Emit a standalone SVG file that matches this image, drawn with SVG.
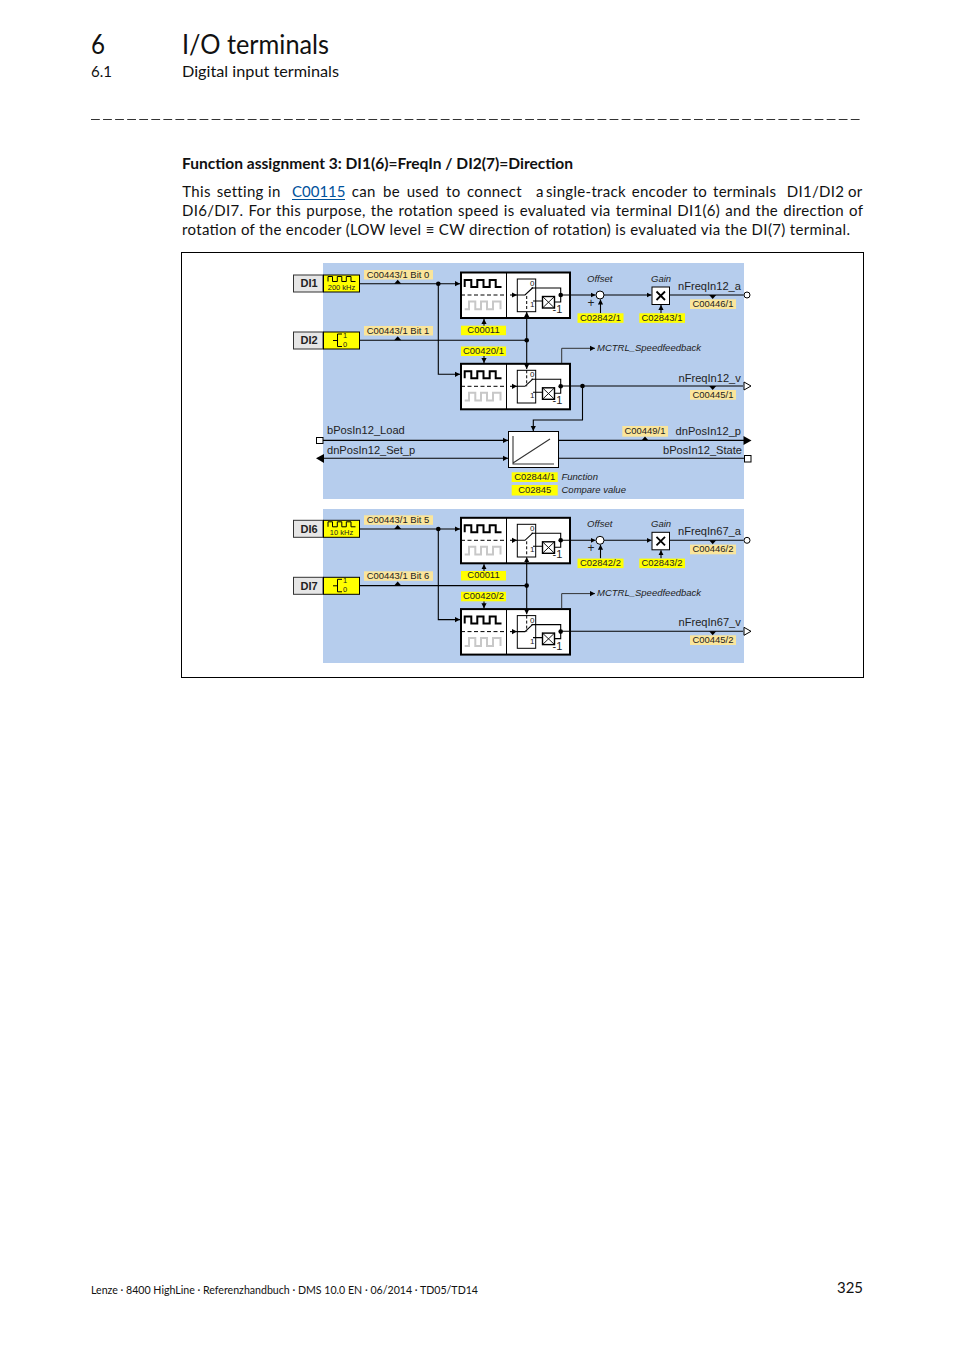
<svg xmlns="http://www.w3.org/2000/svg" xmlns:xlink="http://www.w3.org/1999/xlink" width="954" height="1350" viewBox="0 0 954 1350">
<style>
text{font-family:"Liberation Sans",Arial,sans-serif;fill:#222}
.p{font-family:Lato,"Noto Sans","Open Sans",sans-serif;fill:#111}
.c{font-size:9.45px;text-anchor:middle}
.n{font-size:11.1px}
.i{font-size:9.5px;font-style:italic}
.s{font-size:8px}
.di{font-size:11px;font-weight:bold;text-anchor:middle}
.w{fill:none;stroke:#000;stroke-width:1.1}
.tan{fill:#fae59b}
.yel{fill:#ffff00}
.grey{fill:none;stroke:#c8c8c8;stroke-width:2}
.blk{fill:none;stroke:#000;stroke-width:2}
.box{fill:#fff;stroke:#000;stroke-width:1}
.dot{fill:#000}
</style>
<defs>
<marker id="a" markerUnits="userSpaceOnUse" markerWidth="6" markerHeight="6" refX="5" refY="3" orient="auto"><path d="M0,0.4L5,3L0,5.6z" fill="#000"/></marker>
<g id="fb">
<rect x="461" y="272.5" width="109" height="45.5" fill="#fff" stroke="#000" stroke-width="2"/>
<path d="M506.5,272.5V318" stroke="#000" fill="none"/>
<path class="blk" d="M464.7,287V280H471.3V287H477.3V280H483.5V287H489.7V280H495.7V287H501.5"/>
<path class="grey" d="M464.7,309.3H469V301.5H475.3V309.3H481V301.5H487V309.3H493V301.5H500.5V309.3"/>
<path d="M461,295H506" stroke="#000" stroke-dasharray="4 2.5" fill="none"/>
<rect x="517.3" y="279" width="18.4" height="32.7" fill="#fff" stroke="#000"/>
<path class="w" d="M510,295H517" marker-end="url(#a)"/>
<path class="w" d="M517,295H525L533,287.5"/>
<path class="w" d="M531.5,288H560.7V302H554M533,301H542.5"/>
<rect x="542.5" y="296.5" width="12" height="11.5" fill="#fff" stroke="#000" stroke-width="1.4"/>
<path d="M542.5,296.5L554.5,308M554.5,296.5L542.5,308" stroke="#000" fill="none" stroke-width=".9"/>
<circle class="dot" cx="560.7" cy="295" r="2.3"/>
</g>
<g id="pulse"><path d="M328,281.5V276.5H332.5V281.5H337.3V276.5H341.8V281.5H346.3V276.5H351V281.5H355.5" fill="none" stroke="#000" stroke-width="1"/></g>
<g id="tri"><path d="M-3.5,0H3.5L0,-4z" fill="#000"/></g>
</defs>
<rect width="954" height="1350" fill="#fff"/>

<g id="header">
<text class="p" x="91" y="53.5" font-size="26" textLength="14" lengthAdjust="spacingAndGlyphs">6</text>
<text class="p" x="182" y="53.5" font-size="26" textLength="147" lengthAdjust="spacingAndGlyphs">I/O terminals</text>
<text class="p" x="91" y="77" font-size="15" textLength="21" lengthAdjust="spacingAndGlyphs">6.1</text>
<text class="p" x="182" y="77" font-size="15" textLength="157" lengthAdjust="spacingAndGlyphs">Digital input terminals</text>
<path d="M91,119.5H860" stroke="#333" stroke-width="1" stroke-dasharray="8.8 3.26" fill="none"/>
</g>

<g id="body">
<text class="p" x="182" y="169" font-size="15" font-weight="bold" textLength="391" lengthAdjust="spacingAndGlyphs">Function assignment 3: DI1(6)=FreqIn / DI2(7)=Direction</text>
<text class="p" y="197" font-size="15" letter-spacing=".3"><tspan x="182.3">This</tspan> <tspan x="216.7">setting</tspan> <tspan x="268">in</tspan> <tspan x="292" style="fill:#00529c" letter-spacing="0">C00115</tspan> <tspan x="351.7">can</tspan> <tspan x="383">be</tspan> <tspan x="406.7">used</tspan> <tspan x="446">to</tspan> <tspan x="467">connect</tspan> <tspan x="536">a</tspan> <tspan x="546">single-track</tspan> <tspan x="631.7">encoder</tspan> <tspan x="692.7">to</tspan> <tspan x="713">terminals</tspan> <tspan x="786.7">DI1/DI2</tspan> <tspan x="848">or</tspan></text>
<path d="M292,199.5H345" stroke="#00529c" fill="none"/>
<text class="p" x="182" y="216" font-size="15" word-spacing="1" textLength="681" lengthAdjust="spacing">DI6/DI7. For this purpose, the rotation speed is evaluated via terminal DI1(6) and the direction of</text>
<text class="p" x="182" y="235" font-size="15" textLength="668" lengthAdjust="spacing">rotation of the encoder (LOW level ≡ CW direction of rotation) is evaluated via the DI(7) terminal.</text>
</g>

<rect id="frame" x="181.5" y="252.5" width="682" height="425" fill="#fff" stroke="#000" stroke-width="1"/>
<rect id="panel1" x="323" y="263" width="421" height="236" fill="#b6cded"/>
<rect id="panel2" x="323" y="509" width="421" height="154" fill="#b6cded"/>

<g id="section1">
<g id="nodes1">
<g id="DI1"><rect x="293.5" y="275" width="29.5" height="17" fill="#e6e6e6" stroke="#333"/><text class="di" x="309" y="287">DI1</text><rect class="yel" x="323.5" y="275" width="36" height="17" stroke="#000"/><use href="#pulse"/><text x="341.5" y="289.7" font-size="7.5" text-anchor="middle">200 kHz</text></g>
<g id="DI2"><rect x="293.5" y="332" width="29.5" height="17" fill="#e6e6e6" stroke="#333"/><text class="di" x="309" y="344">DI2</text><rect class="yel" x="323.5" y="332" width="36" height="17" stroke="#000"/><path d="M333,340.5H337.5M342,334H337.5V346.5H342" fill="none" stroke="#000"/><text x="343" y="338" font-size="7.5">1</text><text x="343" y="347" font-size="7.5">0</text></g>
<g id="block1a"><use href="#fb"/><path d="M526.7,296V311" stroke="#000" stroke-dasharray="3 2" fill="none"/><text class="s" x="530" y="286">0</text><text class="s" x="530" y="307">1</text><text x="552.5" y="313" font-size="11">-1</text></g>
<g id="block1b"><g transform="translate(0,91.3)"><use href="#fb"/><text class="s" x="530" y="286">0</text><text class="s" x="530" y="307">1</text><text x="552.5" y="313" font-size="11">-1</text><path d="M526.7,279V295" stroke="#000" stroke-dasharray="3 2" fill="none"/></g></g>
<g id="sum1"><circle cx="600" cy="295" r="4" fill="#fff" stroke="#000"/></g>
<g id="gain1"><rect x="652" y="287" width="17.5" height="17.5" class="box"/><path d="M656.5,291.5L665,300M665,291.5L656.5,300" stroke="#000" stroke-width="1.8" fill="none"/></g>
<g id="ramp1"><rect x="508.5" y="431.5" width="50" height="36" class="box" stroke-width="1.4"/><path d="M513,436V464H554M513,463L550,439" stroke="#333" stroke-width="1.1" fill="none"/></g>
</g>
<g id="connectors1">
<path class="w" d="M360,283.7H460" marker-end="url(#a)"/>
<path class="w" d="M438.3,283.7V374.3H460" marker-end="url(#a)"/>
<path class="w" d="M360,340.3H526.7"/>
<path class="w" d="M526.7,340.3V312" marker-end="url(#a)"/>
<path class="w" d="M526.7,340.3V369" marker-end="url(#a)"/>
<path class="w" d="M484,326V319" marker-end="url(#a)"/>
<path class="w" d="M484,356V363" marker-end="url(#a)"/>
<path class="w" d="M561,295H595.5" marker-end="url(#a)"/>
<path class="w" d="M604,295H651.5" marker-end="url(#a)"/>
<path class="w" d="M670,295H743.5"/>
<path class="w" d="M600.5,313V299.5" marker-end="url(#a)"/>
<path class="w" d="M661,313V305" marker-end="url(#a)"/>
<path d="M561.7,363V348.3H595" fill="none" stroke="#333" marker-end="url(#a)"/>
<path class="w" d="M561,386H743"/>
<path class="w" d="M582.5,386V420H533.3V431" marker-end="url(#a)"/>
<path class="w" d="M323,440.4H508" marker-end="url(#a)"/>
<path class="w" d="M558.5,440.4H744"/>
<path class="w" d="M320,458.3H508" marker-end="url(#a)"/>
<path class="w" d="M558.5,458.3H744"/>
<circle class="dot" cx="438.3" cy="283.7" r="2.3"/><circle class="dot" cx="526.7" cy="340.3" r="2.3"/><circle class="dot" cx="582.5" cy="386" r="2.3"/>
<path d="M751.5,440.4L743.5,436V445z" fill="#000"/>
<path d="M316,458.3L324,454V463z" fill="#000"/>
<path d="M751,386L744,382V390z" fill="#fff" stroke="#000"/>
<circle cx="747" cy="295" r="3" fill="#fff" stroke="#000"/>
<rect x="316.5" y="437.5" width="6.5" height="6" fill="#fff" stroke="#000"/>
<rect x="744.5" y="455.5" width="6.5" height="6.5" fill="#fff" stroke="#000"/>
</g>
<g id="labels1">
<rect class="tan" x="364" y="270" width="69" height="9.5"/><text class="c" x="398" y="278">C00443/1 Bit 0</text><use href="#tri" x="397.7" y="283.7"/>
<rect class="tan" x="364" y="326" width="69" height="9.5"/><text class="c" x="398" y="334">C00443/1 Bit 1</text><use href="#tri" x="397.7" y="340.3"/>
<rect class="yel" x="461" y="325.7" width="45" height="9.5"/><text class="c" x="483.5" y="333">C00011</text>
<rect class="yel" x="461" y="346.5" width="45" height="9.5"/><text class="c" x="483.5" y="354">C00420/1</text>
<rect class="yel" x="577.5" y="313.3" width="46" height="9.5"/><text class="c" x="600.5" y="321">C02842/1</text>
<rect class="yel" x="639.3" y="313.3" width="45.7" height="9.5"/><text class="c" x="662" y="321">C02843/1</text>
<text class="i" x="587" y="282">Offset</text><text class="i" x="651" y="282">Gain</text>
<text x="587.5" y="307" font-size="12">+</text>
<text class="n" x="678" y="290">nFreqIn12_a</text>
<rect class="tan" x="690" y="299.3" width="46" height="9.7"/><text class="c" x="713" y="307">C00446/1</text><use href="#tri" transform="translate(712.7,295) scale(1,-1)"/>
<text class="i" x="597" y="351">MCTRL_Speedfeedback</text>
<text class="n" x="678.5" y="381.5">nFreqIn12_v</text>
<rect class="tan" x="690" y="390" width="46" height="9.7"/><text class="c" x="713" y="398">C00445/1</text><use href="#tri" transform="translate(712.7,386) scale(1,-1)"/>
<text class="n" x="327" y="434">bPosIn12_Load</text>
<text class="n" x="327" y="454">dnPosIn12_Set_p</text>
<rect class="tan" x="622.3" y="426" width="45.7" height="10.7"/><text class="c" x="645" y="434">C00449/1</text><use href="#tri" x="645" y="440.4"/>
<text class="n" x="741" y="435" text-anchor="end">dnPosIn12_p</text>
<text class="n" x="742" y="454" text-anchor="end">bPosIn12_State</text>
<rect class="yel" x="511.7" y="472.3" width="46" height="9.7"/><text class="c" x="534.7" y="480">C02844/1</text>
<rect class="yel" x="511.7" y="485" width="46" height="10.5"/><text class="c" x="534.7" y="493">C02845</text>
<text class="i" x="561.5" y="480">Function</text><text class="i" x="561.5" y="493">Compare value</text>
</g>
</g>

<g id="section2" transform="translate(0,245.3)">
<g id="nodes2">
<g id="DI6"><rect x="293.5" y="275" width="29.5" height="17" fill="#e6e6e6" stroke="#333"/><text class="di" x="309" y="287.5">DI6</text><rect class="yel" x="323.5" y="275" width="36" height="17" stroke="#000"/><use href="#pulse"/><text x="341.5" y="289.7" font-size="7.5" text-anchor="middle">10 kHz</text></g>
<g id="DI7"><rect x="293.5" y="332" width="29.5" height="17" fill="#e6e6e6" stroke="#333"/><text class="di" x="309" y="344.5">DI7</text><rect class="yel" x="323.5" y="332" width="36" height="17" stroke="#000"/><path d="M333,340.5H337.5M342,334H337.5V346.5H342" fill="none" stroke="#000"/><text x="343" y="338" font-size="7.5">1</text><text x="343" y="347" font-size="7.5">0</text></g>
<g id="block2a"><use href="#fb"/><path d="M526.7,296V311" stroke="#000" stroke-dasharray="3 2" fill="none"/><text class="s" x="530" y="286">0</text><text class="s" x="530" y="307">1</text><text x="552.5" y="313" font-size="11">-1</text></g>
<g id="block2b"><g transform="translate(0,91.3)"><use href="#fb"/><text class="s" x="530" y="286">0</text><text class="s" x="530" y="307">1</text><text x="552.5" y="313" font-size="11">-1</text><path d="M526.7,279V295" stroke="#000" stroke-dasharray="3 2" fill="none"/></g></g>
<g id="sum2"><circle cx="600" cy="295" r="4" fill="#fff" stroke="#000"/></g>
<g id="gain2"><rect x="652" y="287" width="17.5" height="17.5" class="box"/><path d="M656.5,291.5L665,300M665,291.5L656.5,300" stroke="#000" stroke-width="1.8" fill="none"/></g>
</g>
<g id="connectors2">
<path class="w" d="M360,283.7H460" marker-end="url(#a)"/>
<path class="w" d="M438.3,283.7V374.3H460" marker-end="url(#a)"/>
<path class="w" d="M360,340.3H526.7"/>
<path class="w" d="M526.7,340.3V312" marker-end="url(#a)"/>
<path class="w" d="M526.7,340.3V369" marker-end="url(#a)"/>
<path class="w" d="M484,326V319" marker-end="url(#a)"/>
<path class="w" d="M484,356V363" marker-end="url(#a)"/>
<path class="w" d="M561,295H595.5" marker-end="url(#a)"/>
<path class="w" d="M604,295H651.5" marker-end="url(#a)"/>
<path class="w" d="M670,295H743.5"/>
<path class="w" d="M600.5,313V299.5" marker-end="url(#a)"/>
<path class="w" d="M661,313V305" marker-end="url(#a)"/>
<path d="M561.7,363V348.3H595" fill="none" stroke="#333" marker-end="url(#a)"/>
<path class="w" d="M561,386H743"/>
<circle class="dot" cx="438.3" cy="283.7" r="2.3"/><circle class="dot" cx="526.7" cy="340.3" r="2.3"/>
<path d="M751,386L744,382V390z" fill="#fff" stroke="#000"/>
<circle cx="747" cy="295" r="3" fill="#fff" stroke="#000"/>
</g>
<g id="labels2">
<rect class="tan" x="364" y="270" width="69" height="9.5"/><text class="c" x="398" y="278">C00443/1 Bit 5</text><use href="#tri" x="397.7" y="283.7"/>
<rect class="tan" x="364" y="326" width="69" height="9.5"/><text class="c" x="398" y="334">C00443/1 Bit 6</text><use href="#tri" x="397.7" y="340.3"/>
<rect class="yel" x="461" y="325.7" width="45" height="9.5"/><text class="c" x="483.5" y="333">C00011</text>
<rect class="yel" x="461" y="346.5" width="45" height="9.5"/><text class="c" x="483.5" y="354">C00420/2</text>
<rect class="yel" x="577.5" y="313.3" width="46" height="9.5"/><text class="c" x="600.5" y="321">C02842/2</text>
<rect class="yel" x="639.3" y="313.3" width="45.7" height="9.5"/><text class="c" x="662" y="321">C02843/2</text>
<text class="i" x="587" y="282">Offset</text><text class="i" x="651" y="282">Gain</text>
<text x="587.5" y="307" font-size="12">+</text>
<text class="n" x="678" y="290">nFreqIn67_a</text>
<rect class="tan" x="690" y="299.3" width="46" height="9.7"/><text class="c" x="713" y="307">C00446/2</text><use href="#tri" transform="translate(712.7,295) scale(1,-1)"/>
<text class="i" x="597" y="351">MCTRL_Speedfeedback</text>
<text class="n" x="678.5" y="381">nFreqIn67_v</text>
<rect class="tan" x="690" y="390" width="46" height="9.7"/><text class="c" x="713" y="398">C00445/2</text><use href="#tri" transform="translate(712.7,386) scale(1,-1)"/>
</g>
</g>

<g id="footer">
<text class="p" x="91" y="1294" font-size="11.2" textLength="387" lengthAdjust="spacingAndGlyphs">Lenze · 8400 HighLine · Referenzhandbuch · DMS 10.0 EN · 06/2014 · TD05/TD14</text>
<text class="p" x="837" y="1293" font-size="15" textLength="26" lengthAdjust="spacingAndGlyphs">325</text>
</g>
</svg>
